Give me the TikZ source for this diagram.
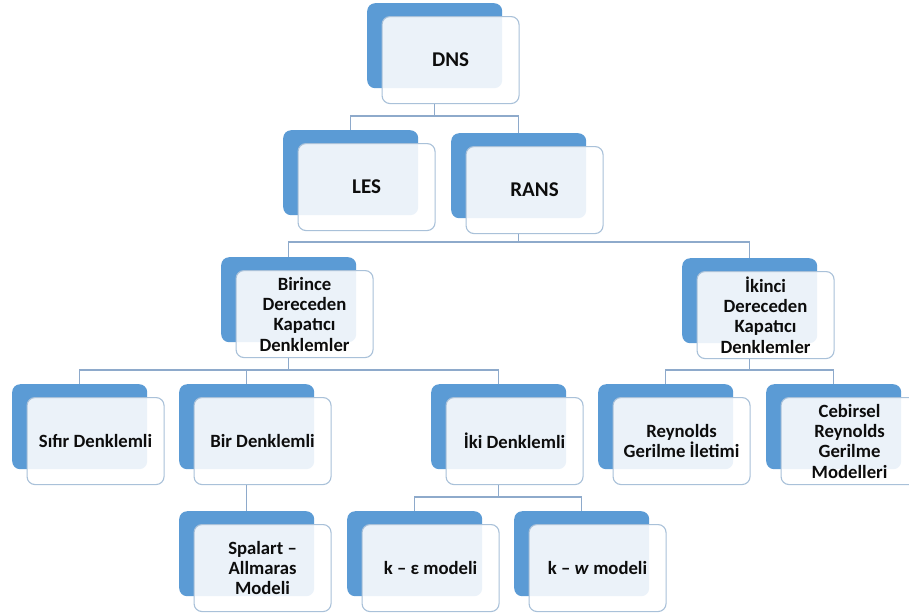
\documentclass[tikz,border=0pt]{standalone}
\usepackage{fontspec}
\setmainfont{Carlito}
\definecolor{backblue}{HTML}{5B9BD5}
\definecolor{frontedge}{HTML}{A9C1D9}
\definecolor{linkline}{HTML}{8EAACB}
\definecolor{labeltext}{HTML}{0D0D0D}

% A blue back card with a pale front card laid over it, offset down and right.
\newcommand{\stackedbox}[5][]{%
  \node[backbox] (#2b) at (#3,#4) {};
  \node[frontbox,#1] (#2) at (#3+14.5,#4+13) {#5};}

\begin{document}
\begin{tikzpicture}[x=1pt,y=-1pt,
  backbox/.style={draw=none,fill=backblue,rounded corners=8pt,
    minimum width=135pt,minimum height=85pt,inner sep=0pt,anchor=north west},
  frontbox/.style={draw=frontedge,line width=1.1pt,fill=white,fill opacity=0.88,
    text opacity=1,rounded corners=8pt,minimum width=137pt,minimum height=87pt,
    inner sep=2pt,anchor=north west,align=center,text=labeltext,
    font=\bfseries\fontsize{18.7}{20.3}\selectfont},
  toplevel/.style={font=\bfseries\fontsize{21}{24}\selectfont},
  link/.style={draw=linkline,line width=1.1pt}]

\clip (0,0) rectangle (909,614);
\fill[white] (0,0) rectangle (909,614);

% level 0 and 1
\stackedbox[toplevel]{dns}{367}{3}{DNS}
\stackedbox[toplevel]{les}{283}{130}{LES}
\stackedbox[toplevel]{rans}{451}{133}{RANS}
% level 2
\stackedbox{first}{221}{257}{Birince\\Dereceden\\Kapatıcı\\Denklemler}
\stackedbox{second}{682}{258}{İkinci\\Dereceden\\Kapatıcı\\Denklemler}
% level 3
\stackedbox{zero}{12}{384}{Sıfır Denklemli}
\stackedbox{one}{179}{384}{Bir Denklemli}
\stackedbox{two}{431}{384}{İki Denklemli}
\stackedbox{rst}{598}{384}{Reynolds\\Gerilme İletimi}
\stackedbox{asm}{766}{384}{Cebirsel\\Reynolds\\Gerilme\\Modelleri}
% level 4
\stackedbox{sa}{179}{511}{Spalart \textendash\\Allmaras\\Modeli}
\stackedbox{ke}{347}{511}{k \textendash{} ε modeli}
\stackedbox{kw}{514}{511}{k \textendash{} \textit{w} modeli}

% bus lines
\coordinate (busA) at (0,116);
\coordinate (busB) at (0,242);
\coordinate (busC) at (0,370);
\coordinate (busD) at (0,497);

\draw[link] (dnsb.south |- dns.south) -- (dnsb.south |- busA) -| (lesb.north);
\draw[link] (dnsb.south |- busA) -| (ransb.north);

\draw[link] (ransb.south |- rans.south) -- (ransb.south |- busB) -| (firstb.north);
\draw[link] (ransb.south |- busB) -| (secondb.north);

\draw[link] (firstb.south |- first.south) -- (firstb.south |- busC) -| (zerob.north);
\draw[link] (firstb.south |- busC) -| (oneb.north);
\draw[link] (firstb.south |- busC) -| (twob.north);

\draw[link] (secondb.south |- second.south) -- (secondb.south |- busC) -| (rstb.north);
\draw[link] (secondb.south |- busC) -| (asmb.north);

\draw[link] (oneb.south |- one.south) -- (sab.north);

\draw[link] (twob.south |- two.south) -- (twob.south |- busD) -| (keb.north);
\draw[link] (twob.south |- busD) -| (kwb.north);
\end{tikzpicture}
\end{document}
